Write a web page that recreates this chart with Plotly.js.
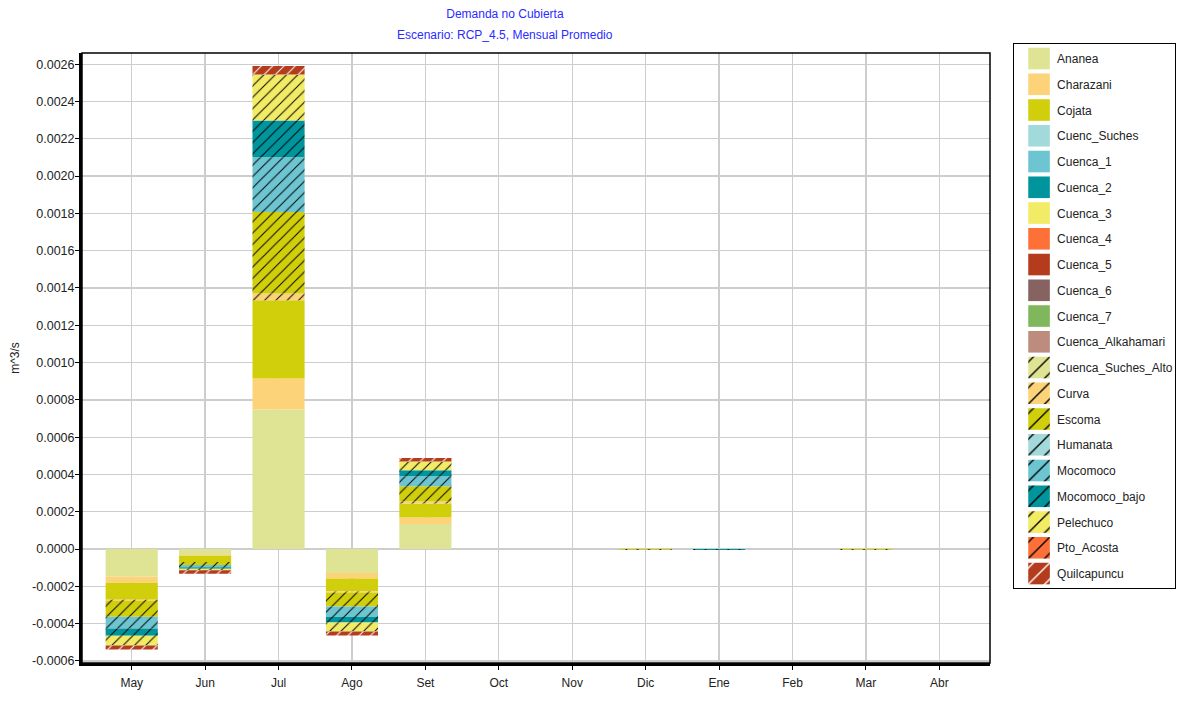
<!DOCTYPE html>
<html>
<head>
<meta charset="utf-8">
<script src="https://cdn.plot.ly/plotly-3.0.1.min.js"></script>
<style>
  body { margin: 0; background: #fff; }
  #myPlot { width: 1177px; height: 702px; }
</style>
</head>
<body>
<div id="myPlot"></div>
<script>
// months (hydrological year, May..Abr)
let months = ['May', 'Jun', 'Jul', 'Ago', 'Set', 'Oct', 'Nov', 'Dic', 'Ene', 'Feb', 'Mar', 'Abr'];

// y tick labels as printed on the chart
let yTickVals = [-0.0006, -0.0004, -0.0002, 0, 0.0002, 0.0004, 0.0006, 0.0008, 0.0010, 0.0012,
  0.0014, 0.0016, 0.0018, 0.0020, 0.0022, 0.0024, 0.0026];
let yTickText = ['-0.0006', '-0.0004', '-0.0002', '0.0000', '0.0002', '0.0004', '0.0006', '0.0008', '0.0010', '0.0012',
  '0.0014', '0.0016', '0.0018', '0.0020', '0.0022', '0.0024', '0.0026'];

// series values, m^3/s
let ananea        = [-0.000149, -0.000032, 0.000748, -0.000129, 0.000135, 0, 0, 0, 0, 0, 0, 0];
let charazani     = [-0.000032, -0.000005, 0.000166, -0.000029, 0.000034, 0, 0, 0, 0, 0, 0, 0];
let cojata        = [-0.000091, -0.000032, 0.000420, -0.000070, 0.000075, 0, 0, 0, 0, 0, 0, 0];
let cuencSuches   = [0, 0, 0, 0, 0, 0, 0, 0, 0, 0, 0, 0];
let cuenca1       = [0, 0, 0, 0, 0, 0, 0, 0, 0, 0, 0, 0];
let cuenca2       = [0, 0, 0, 0, 0, 0, 0, 0, 0, 0, 0, 0];
let cuenca3       = [0, 0, 0, 0, 0, 0, 0, 0, 0, 0, 0, 0];
let cuenca4       = [0, 0, 0, 0, 0, 0, 0, 0, 0, 0, 0, 0];
let cuenca5       = [0, 0, 0, 0, 0, 0, 0, 0, 0, 0, 0, 0];
let cuenca6       = [0, 0, 0, 0, 0, 0, 0, 0, 0, 0, 0, 0];
let cuenca7       = [0, 0, 0, 0, 0, 0, 0, 0, 0, 0, 0, 0];
let alkahamari    = [0, 0, 0, 0, 0, 0, 0, 0, 0, 0, 0, 0];
let suchesAlto    = [0, 0, 0, 0, 0, 0, 0, 0, 0, 0, 0, 0];
let curva         = [-0.000007, 0, 0.000036, -0.000005, 0.000011, 0, 0, 0, 0, 0, 0, 0];
let escoma        = [-0.000084, -0.000016, 0.000438, -0.000075, 0.000082, 0, 0, -0.000005, 0, 0, -0.000005, 0];
let humanata      = [0, 0, 0, 0, 0, 0, 0, 0, 0, 0, 0, 0];
let mocomoco      = [-0.000063, -0.000013, 0.000293, -0.000057, 0.000054, 0, 0, 0, 0, 0, 0, 0];
let mocomocoBajo  = [-0.000039, -0.000008, 0.000197, -0.000029, 0.000032, 0, 0, 0, -0.000005, 0, 0, 0];
let pelechuco     = [-0.000052, -0.000008, 0.000247, -0.000048, 0.000047, 0, 0, 0, 0, 0, 0, 0];
let ptoAcosta     = [0, 0, 0, 0, 0, 0, 0, 0, 0, 0, 0, 0];
let quilcapuncu   = [-0.000021, -0.000019, 0.000045, -0.000022, 0.000018, 0, 0, 0, 0, 0, 0, 0];

// name, values, color, hatched?, hatch color
let series = [
  ['Ananea', ananea, '#dfe495', false],
  ['Charazani', charazani, '#fdd37a', false],
  ['Cojata', cojata, '#d1cf0b', false],
  ['Cuenc_Suches', cuencSuches, '#a2dadb', false],
  ['Cuenca_1', cuenca1, '#6dc5d1', false],
  ['Cuenca_2', cuenca2, '#00959d', false],
  ['Cuenca_3', cuenca3, '#f2eb65', false],
  ['Cuenca_4', cuenca4, '#fd7138', false],
  ['Cuenca_5', cuenca5, '#b43c1d', false],
  ['Cuenca_6', cuenca6, '#866261', false],
  ['Cuenca_7', cuenca7, '#80b75c', false],
  ['Cuenca_Alkahamari', alkahamari, '#bc8c7e', false],
  ['Cuenca_Suches_Alto', suchesAlto, '#dfe495', true],
  ['Curva', curva, '#fdd37a', true],
  ['Escoma', escoma, '#d1cf0b', true],
  ['Humanata', humanata, '#a2dadb', true],
  ['Mocomoco', mocomoco, '#6dc5d1', true],
  ['Mocomoco_bajo', mocomocoBajo, '#00959d', true],
  ['Pelechuco', pelechuco, '#f2eb65', true],
  ['Pto_Acosta', ptoAcosta, '#fd7138', true],
  ['Quilcapuncu', quilcapuncu, '#b43c1d', true, '#ffffff']
];

let data1 = series.map(function (s) {
  let marker = { color: s[2], line: { width: 0 } };
  if (s[3]) {
    marker.pattern = {
      shape: '/', fillmode: 'replace', bgcolor: s[2],
      fgcolor: s[4] || '#000000', size: 8, solidity: 0.12
    };
  }
  return {
    type: 'bar',
    name: s[0],
    legendgroup: s[0],
    x: months,
    y: s[1],
    marker: marker
  };
});

let font = 'Liberation Sans, Arial, sans-serif';

let layout = {
  width: 1177,
  height: 702,
  margin: { l: 82, r: 187, t: 53, b: 39 },
  paper_bgcolor: '#ffffff',
  plot_bgcolor: '#ffffff',
  barmode: 'relative',
  bargap: 0.29,
  font: { family: font, size: 12, color: '#222222' },
  title: {
    text: 'Demanda no Cubierta',
    font: { family: font, size: 12, color: '#2b2bff' },
    xref: 'container', x: 0.429, xanchor: 'center',
    yref: 'container', y: 0.98, yanchor: 'middle'
  },
  annotations: [{
    text: 'Escenario: RCP_4.5, Mensual Promedio',
    font: { family: font, size: 12, color: '#2b2bff' },
    xref: 'paper', x: 0.4659, xanchor: 'center',
    yref: 'paper', y: 1.0295, yanchor: 'middle',
    showarrow: false
  }],
  xaxis: {
    type: 'category',
    range: [-0.677, 11.69],
    automargin: false,
    showgrid: true,
    gridcolor: '#cdcdcd',
    gridwidth: 1.3,
    showline: true,
    linecolor: '#000000',
    linewidth: 3,
    ticks: 'outside',
    ticklen: 4,
    tickcolor: '#000000',
    ticklabelstandoff: 3,
    tickfont: { family: font, size: 12, color: '#222222' },
    fixedrange: true
  },
  yaxis: {
    range: [-0.000611, 0.00266],
    automargin: false,
    tickvals: yTickVals,
    ticktext: yTickText,
    showgrid: true,
    gridcolor: '#cdcdcd',
    gridwidth: 1.3,
    zeroline: false,
    showline: true,
    linecolor: '#000000',
    linewidth: 3,
    ticks: 'outside',
    ticklen: 4,
    tickcolor: '#000000',
    ticklabelstandoff: -2,
    tickfont: { family: font, size: 12.5, color: '#222222' },
    title: { text: 'm^3/s', font: { family: font, size: 12, color: '#222222' }, standoff: 10 },
    fixedrange: true
  },
  shapes: [{
    type: 'rect', xref: 'paper', yref: 'paper', x0: 0, x1: 1, y0: 0, y1: 1,
    line: { color: '#000000', width: 1.5 }, fillcolor: 'rgba(0,0,0,0)'
  }],
  showlegend: true,
  legend: {
    xref: 'container', x: 0.8607, xanchor: 'left',
    yref: 'container', y: 0.9387, yanchor: 'top',
    bgcolor: '#ffffff',
    bordercolor: '#000000',
    borderwidth: 1,
    font: { family: font, size: 12, color: '#222222' },
    tracegroupgap: 6.75,
    traceorder: 'grouped',
    maxheight: 620
  }
};

Plotly.newPlot('myPlot', data1, layout, { displayModeBar: false, staticPlot: true }).then(function (gd) {
  // bigger legend swatches and a little more room before the text, like the original
  gd.querySelectorAll('.legend .legendpoints path').forEach(function (p) {
    let t = p.getAttribute('transform') || '';
    p.setAttribute('transform', t + ' translate(5,0) scale(1.8)');
  });
  gd.querySelectorAll('.legend .legendtext').forEach(function (txt) {
    txt.setAttribute('x', parseFloat(txt.getAttribute('x') || 0) + 3);
  });
});
</script>
</body>
</html>
